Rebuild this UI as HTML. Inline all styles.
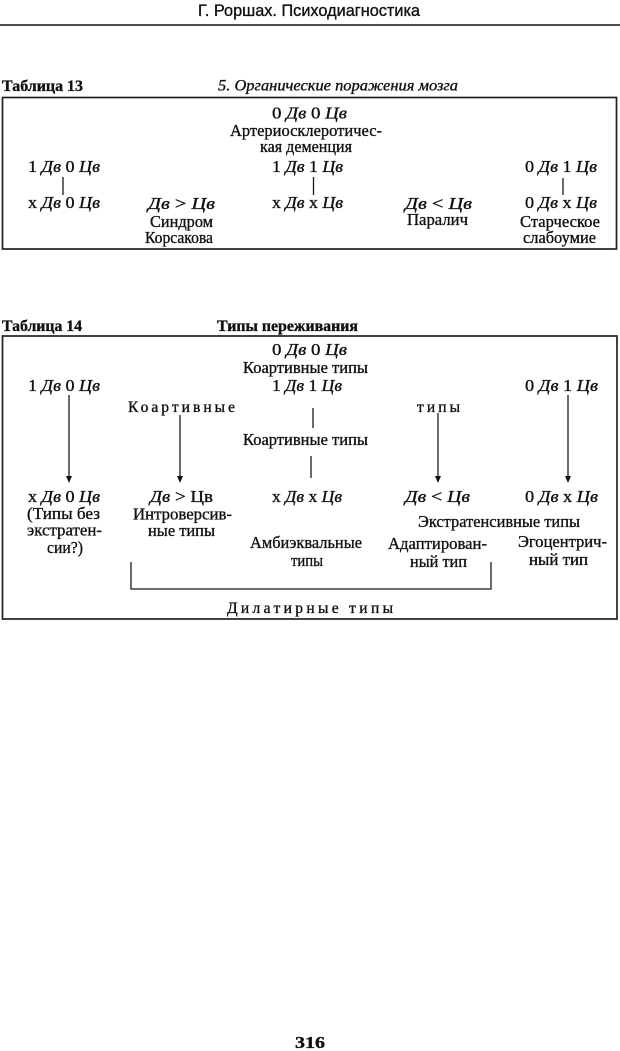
<!DOCTYPE html>
<html>
<head>
<meta charset="utf-8">
<style>
  html, body { margin: 0; padding: 0; background: #fff; }
  body { width: 620px; height: 1051px; overflow: hidden; }
  svg { display: block; }
  .t { font-family: "Liberation Serif", "DejaVu Serif", serif; font-size: 17px; fill: #111; stroke: #111; stroke-width: 0.35; }
  .s { font-family: "Liberation Serif", "DejaVu Serif", serif; font-size: 15.5px; fill: #111; stroke: #111; stroke-width: 0.35; }
  .i { font-style: italic; }
  .b { font-weight: bold; }
  .hd { font-family: "Liberation Sans", "DejaVu Sans", sans-serif; font-size: 17px; fill: #111; stroke: #111; stroke-width: 0.35; }
  .ln { stroke: #1a1a1a; stroke-width: 1.3; fill: none; }
  .bx { stroke: #222; stroke-width: 1.7; fill: none; }
</style>
</head>
<body>
<svg width="620" height="1051" viewBox="0 0 620 1051" xmlns="http://www.w3.org/2000/svg">
  <!-- Running header -->
  <text class="hd" x="198" y="16" textLength="222" lengthAdjust="spacingAndGlyphs">Г. Роршах. Психодиагностика</text>
  <line x1="0" y1="25" x2="620" y2="25" stroke="#333" stroke-width="1.8"/>

  <!-- ===== Table 13 ===== -->
  <text class="s b" x="2" y="91" textLength="81" lengthAdjust="spacingAndGlyphs">Таблица 13</text>
  <text class="s i" x="218" y="90.5" textLength="240" lengthAdjust="spacingAndGlyphs">5. Органические поражения мозга</text>
  <rect class="bx" x="2.5" y="97.5" width="614" height="151.5"/>

  <text class="t" x="272" y="118.5" textLength="75" lengthAdjust="spacingAndGlyphs">0 <tspan class="i">Дв</tspan> 0 <tspan class="i">Цв</tspan></text>
  <text class="t" x="230" y="136" textLength="152" lengthAdjust="spacingAndGlyphs">Артериосклеротичес-</text>
  <text class="t" x="260" y="152" textLength="92" lengthAdjust="spacingAndGlyphs">кая деменция</text>

  <text class="t" x="28" y="172" textLength="72" lengthAdjust="spacingAndGlyphs">1 <tspan class="i">Дв</tspan> 0 <tspan class="i">Цв</tspan></text>
  <text class="t" x="272" y="172" textLength="71" lengthAdjust="spacingAndGlyphs">1 <tspan class="i">Дв</tspan> 1 <tspan class="i">Цв</tspan></text>
  <text class="t" x="525" y="172" textLength="72" lengthAdjust="spacingAndGlyphs">0 <tspan class="i">Дв</tspan> 1 <tspan class="i">Цв</tspan></text>

  <line class="ln" x1="63" y1="177" x2="63" y2="195"/>
  <line class="ln" x1="313.5" y1="177" x2="313.5" y2="195"/>
  <line class="ln" x1="563" y1="178" x2="563" y2="195"/>

  <text class="t" x="28" y="208" textLength="72" lengthAdjust="spacingAndGlyphs">х <tspan class="i">Дв</tspan> 0 <tspan class="i">Цв</tspan></text>
  <text class="t" x="272" y="208" textLength="71" lengthAdjust="spacingAndGlyphs">х <tspan class="i">Дв</tspan> х <tspan class="i">Цв</tspan></text>
  <text class="t" x="525" y="208" textLength="72" lengthAdjust="spacingAndGlyphs">0 <tspan class="i">Дв</tspan> х <tspan class="i">Цв</tspan></text>

  <text class="t" x="148" y="209" textLength="67" lengthAdjust="spacingAndGlyphs"><tspan class="i">Дв</tspan> &gt; <tspan class="i">Цв</tspan></text>
  <text class="t" x="150" y="227" textLength="63" lengthAdjust="spacingAndGlyphs">Синдром</text>
  <text class="t" x="145" y="243" textLength="68" lengthAdjust="spacingAndGlyphs">Корсакова</text>

  <text class="t" x="405" y="209" textLength="67" lengthAdjust="spacingAndGlyphs"><tspan class="i">Дв</tspan> &lt; <tspan class="i">Цв</tspan></text>
  <text class="t" x="407" y="225" textLength="61" lengthAdjust="spacingAndGlyphs">Паралич</text>

  <text class="t" x="520" y="227" textLength="80" lengthAdjust="spacingAndGlyphs">Старческое</text>
  <text class="t" x="523" y="243" textLength="73" lengthAdjust="spacingAndGlyphs">слабоумие</text>

  <!-- ===== Table 14 ===== -->
  <text class="s b" x="2" y="331" textLength="80" lengthAdjust="spacingAndGlyphs">Таблица 14</text>
  <text class="s b" x="217" y="331" textLength="141" lengthAdjust="spacingAndGlyphs">Типы переживания</text>
  <rect class="bx" x="2.5" y="336" width="614.5" height="283"/>

  <text class="t" x="272" y="355" textLength="75" lengthAdjust="spacingAndGlyphs">0 <tspan class="i">Дв</tspan> 0 <tspan class="i">Цв</tspan></text>
  <text class="t" x="243" y="373" textLength="125" lengthAdjust="spacingAndGlyphs">Коартивные типы</text>
  <text class="t" x="272" y="391" textLength="70" lengthAdjust="spacingAndGlyphs">1 <tspan class="i">Дв</tspan> 1 <tspan class="i">Цв</tspan></text>
  <text class="t" x="28" y="391" textLength="72" lengthAdjust="spacingAndGlyphs">1 <tspan class="i">Дв</tspan> 0 <tspan class="i">Цв</tspan></text>
  <text class="t" x="525" y="391" textLength="73" lengthAdjust="spacingAndGlyphs">0 <tspan class="i">Дв</tspan> 1 <tspan class="i">Цв</tspan></text>

  <text class="s" x="128" y="412" textLength="107" lengthAdjust="spacing">Коартивные</text>
  <text class="s" x="417" y="412" textLength="43" lengthAdjust="spacing">типы</text>

  <line class="ln" x1="313" y1="408" x2="313" y2="428"/>
  <text class="t" x="243" y="445" textLength="125" lengthAdjust="spacingAndGlyphs">Коартивные типы</text>
  <line class="ln" x1="311" y1="456" x2="311" y2="478"/>

  <!-- arrows -->
  <line class="ln" x1="69" y1="395" x2="69" y2="478"/>
  <polygon points="66,476 72,476 69,483" fill="#111"/>
  <line class="ln" x1="180" y1="415" x2="180" y2="478"/>
  <polygon points="177,476 183,476 180,483" fill="#111"/>
  <line class="ln" x1="438" y1="413" x2="438" y2="478"/>
  <polygon points="435,476 441,476 438,483" fill="#111"/>
  <line class="ln" x1="568" y1="395" x2="568" y2="478"/>
  <polygon points="565,476 571,476 568,483" fill="#111"/>

  <text class="t" x="28" y="502" textLength="72" lengthAdjust="spacingAndGlyphs">х <tspan class="i">Дв</tspan> 0 <tspan class="i">Цв</tspan></text>
  <text class="t" x="150" y="502" textLength="63" lengthAdjust="spacingAndGlyphs"><tspan class="i">Дв</tspan> &gt; Цв</text>
  <text class="t" x="272" y="502" textLength="70" lengthAdjust="spacingAndGlyphs">х <tspan class="i">Дв</tspan> х <tspan class="i">Цв</tspan></text>
  <text class="t" x="405" y="502" textLength="65" lengthAdjust="spacingAndGlyphs"><tspan class="i">Дв</tspan> &lt; <tspan class="i">Цв</tspan></text>
  <text class="t" x="525" y="502" textLength="73" lengthAdjust="spacingAndGlyphs">0 <tspan class="i">Дв</tspan> х <tspan class="i">Цв</tspan></text>

  <text class="t" x="27" y="519" textLength="73" lengthAdjust="spacingAndGlyphs">(Типы без</text>
  <text class="t" x="27" y="535.5" textLength="75" lengthAdjust="spacingAndGlyphs">экстратен-</text>
  <text class="t" x="47" y="553" textLength="36" lengthAdjust="spacingAndGlyphs">сии?)</text>

  <text class="t" x="133" y="519.5" textLength="99" lengthAdjust="spacingAndGlyphs">Интроверсив-</text>
  <text class="t" x="148" y="536" textLength="67" lengthAdjust="spacingAndGlyphs">ные типы</text>

  <text class="t" x="418" y="527" textLength="162" lengthAdjust="spacingAndGlyphs">Экстратенсивные типы</text>

  <text class="t" x="250" y="548" textLength="112" lengthAdjust="spacingAndGlyphs">Амбиэквальные</text>
  <text class="t" x="291" y="566" textLength="32" lengthAdjust="spacingAndGlyphs">типы</text>

  <text class="t" x="388" y="549" textLength="99" lengthAdjust="spacingAndGlyphs">Адаптирован-</text>
  <text class="t" x="410" y="567" textLength="57" lengthAdjust="spacingAndGlyphs">ный тип</text>

  <text class="t" x="518" y="547" textLength="89" lengthAdjust="spacingAndGlyphs">Эгоцентрич-</text>
  <text class="t" x="529" y="565" textLength="59" lengthAdjust="spacingAndGlyphs">ный тип</text>

  <!-- bracket -->
  <polyline class="ln" points="131,562 131,589 491,589 491,562"/>

  <text class="s" x="227" y="613" textLength="166" lengthAdjust="spacing">Дилатирные типы</text>

  <!-- page number -->
  <text class="t b" x="295" y="1048" font-size="18" textLength="30" lengthAdjust="spacingAndGlyphs">316</text>
</svg>
</body>
</html>
